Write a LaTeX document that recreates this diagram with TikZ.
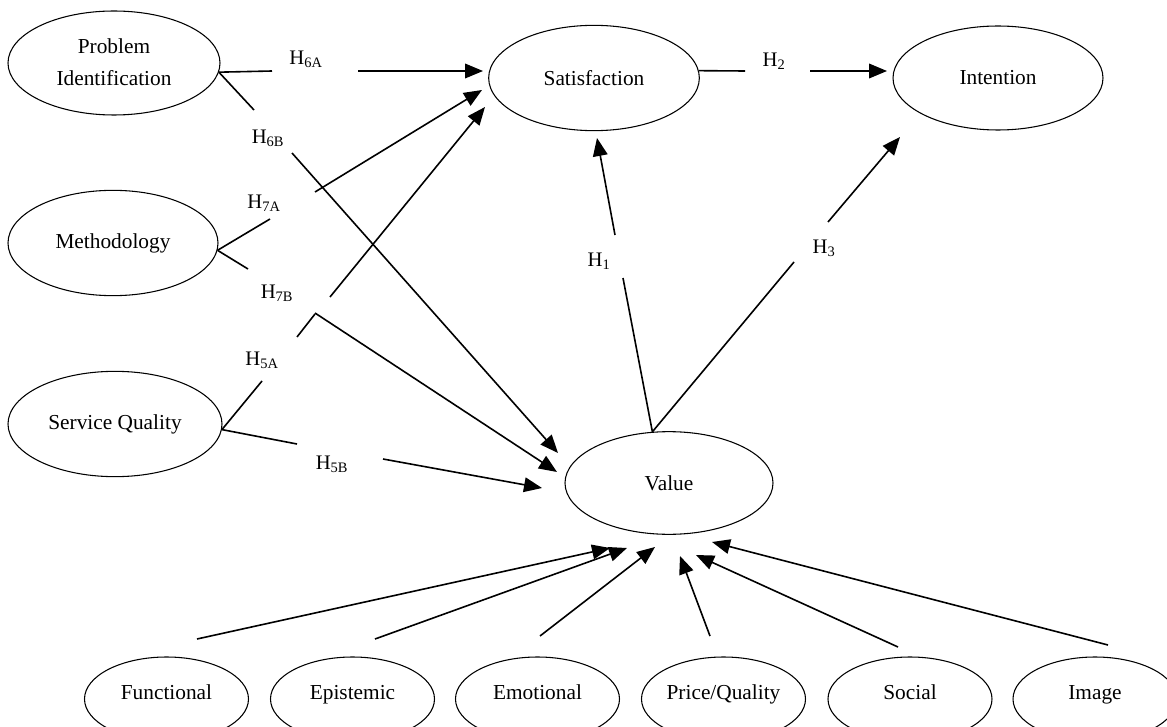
\documentclass[tikz,border=0pt]{standalone}
\usepackage{fontspec}
\setmainfont{Liberation Serif}
\usetikzlibrary{shapes.geometric,arrows.meta}
\begin{document}
\begin{tikzpicture}[x=0.75pt,y=-0.75pt,
  ell/.style={ellipse,draw,line width=0.8pt,inner sep=0pt,font=\fontsize{16}{19}\selectfont},
  bot/.style={ell,minimum width=123pt,minimum height=63pt,text height=0pt,text depth=0pt},
  hlab/.style={inner sep=0pt,font=\fontsize{15.5}{18}\selectfont},
  conn/.style={line width=1.2pt},
  arr/.style={line width=1.2pt,-{Triangle[length=13.5pt,width=11pt]}}]
\useasboundingbox (0,0) rectangle (1167,727);
\fill[white] (0,0) rectangle (1167,727);

% main constructs
\node[ell,minimum width=159pt,minimum height=78pt,align=center,font=\fontsize{16}{24}\selectfont] (pi) at (114,63) {\raisebox{2pt}{Problem}\\\raisebox{2pt}{Identification}};
\node[ell,minimum width=158pt,minimum height=79pt] (sat) at (594,78) {Satisfaction};
\node[ell,minimum width=157.5pt,minimum height=78pt] (int) at (998,78) {Intention};
\node[ell,minimum width=157.5pt,minimum height=79pt] (meth) at (113,243) {Methodology};
\node[ell,minimum width=160.5pt,minimum height=79pt] (sq) at (115,424) {Service Quality};
\node[ell,minimum width=156pt,minimum height=77pt] (val) at (669,483) {Value};

% value dimensions
\node[bot] (fun) at (166.5,699) {Functional};
\node[bot] (epi) at (352.5,699) {Epistemic};
\node[bot] (emo) at (537.5,699) {Emotional};
\node[bot] (pq)  at (723.5,699) {Price/Quality};
\node[bot] (soc) at (910,699) {Social};
\node[bot] (img) at (1095,699) {Image};

% hypothesis labels
\node[hlab] (l6a) at (306,59)  {H\textsubscript{6A}};
\node[hlab] (l6b) at (268,138) {H\textsubscript{6B}};
\node[hlab] (l7a) at (264,203) {H\textsubscript{7A}};
\node[hlab] (l7b) at (277,293) {H\textsubscript{7B}};
\node[hlab] (l5a) at (262,360) {H\textsubscript{5A}};
\node[hlab] (l5b) at (332,464) {H\textsubscript{5B}};
\node[hlab] (l1)  at (599,261) {H\textsubscript{1}};
\node[hlab] (l3)  at (824,248) {H\textsubscript{3}};
\node[hlab] (l2)  at (774,61)  {H\textsubscript{2}};

% gap ends and arrow tips
\coordinate (a6a) at (272,71);  \coordinate (b6a) at (358,71);  \coordinate (t6a) at (483,71);
\coordinate (a6b) at (254,110); \coordinate (b6b) at (292,153); \coordinate (t6b) at (558,453);
\coordinate (a7a) at (270,219); \coordinate (b7a) at (315,192); \coordinate (t7a) at (482,90);
\coordinate (a7b) at (248,269); \coordinate (b7b) at (315,313); \coordinate (t7b) at (557,472);
\coordinate (a5a) at (262,381); \coordinate (b5a) at (297,337); \coordinate (c5a) at (315,314);
\coordinate (d5a) at (330,297); \coordinate (t5a) at (485,107);
\coordinate (a5b) at (297,444); \coordinate (b5b) at (383,459); \coordinate (t5b) at (542,488);
\coordinate (a1) at (623,278);  \coordinate (b1) at (615,235);  \coordinate (t1) at (597,138);
\coordinate (a3) at (794,262);  \coordinate (b3) at (828,222);  \coordinate (t3) at (900,137);
\coordinate (a2) at (745,71);   \coordinate (b2) at (810,71);   \coordinate (t2) at (887,71);

\coordinate (sf) at (197,639);  \coordinate (tf) at (610,548);
\coordinate (se) at (375,639);  \coordinate (te) at (627,548);
\coordinate (sm) at (540,636);  \coordinate (tm) at (655,547);
\coordinate (sp) at (710,636);  \coordinate (tp) at (680,556);
\coordinate (ss) at (898,647);  \coordinate (ts) at (696,555);
\coordinate (si) at (1108,645); \coordinate (ti) at (712,542);

% H6A, H6B
\draw[conn] (pi.-5) -- (a6a);  \draw[arr] (b6a) -- (t6a);
\draw[conn] (pi.-5) -- (a6b);  \draw[arr] (b6b) -- (t6b);
% H7A, H7B
\draw[conn] (meth.-4) -- (a7a); \draw[arr] (b7a) -- (t7a);
\draw[conn] (meth.-4) -- (a7b); \draw[arr] (b7b) -- (t7b);
% H5A, H5B
\draw[conn] (sq.-3) -- (a5a); \draw[conn] (b5a) -- (c5a); \draw[arr] (d5a) -- (t5a);
\draw[conn] (sq.-3) -- (a5b); \draw[arr] (b5b) -- (t5b);
% H1, H3, H2
\draw[conn] (val.108) -- (a1); \draw[arr] (b1) -- (t1);
\draw[conn] (val.108) -- (a3); \draw[arr] (b3) -- (t3);
\draw[conn] (sat.4) -- (a2);   \draw[arr] (b2) -- (t2);

% dimensions -> value
\draw[arr] (sf) -- (tf);
\draw[arr] (se) -- (te);
\draw[arr] (sm) -- (tm);
\draw[arr] (sp) -- (tp);
\draw[arr] (ss) -- (ts);
\draw[arr] (si) -- (ti);
\end{tikzpicture}
\end{document}
